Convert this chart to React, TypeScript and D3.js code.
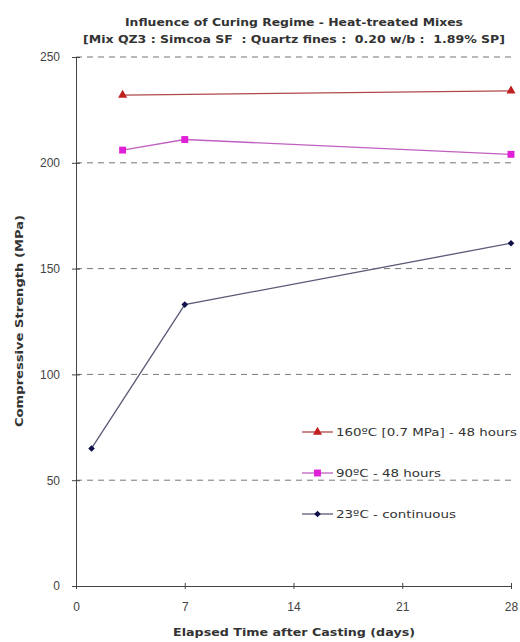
import React, { useEffect, useRef } from 'react';
import * as d3 from 'd3';

const xTicks = [0, 7, 14, 21, 28];
const yTicks = [0, 50, 100, 150, 200, 250];

const days160 = [3, 28];
const strength160 = [232, 234];
const days90 = [3, 7, 28];
const strength90 = [206, 211, 204];
const days23 = [1, 7, 28];
const strength23 = [65, 133, 162];

const seriesNames = ['160ºC [0.7 MPa] - 48 hours', '90ºC - 48 hours', '23ºC - continuous'];
// the labels in the original are drawn wide, so each one gets its measured width
const legendWidths = [181, 105, 120];

const App = () => {
  const ref = useRef<SVGSVGElement>(null);

  useEffect(() => {
    const width = 520;
    const height = 642;
    const margin = { top: 57, right: 9, bottom: 56, left: 76 };

    const svg = d3.select(ref.current);
    svg.selectAll('*').remove();
    svg.attr('width', width).attr('height', height);

    const x = d3.scaleLinear().domain([0, 28]).range([margin.left, width - margin.right]);
    const y = d3.scaleLinear().domain([0, 250]).range([height - margin.bottom, margin.top]);

    const font = 'DejaVu Sans, Arial, sans-serif';
    const tickFont = 'Liberation Sans, Arial, sans-serif';
    const textColor = '#333';

    const boldText = (tx: number, ty: number, txt: string, len: number) =>
      svg.append('text')
        .attr('x', tx).attr('y', ty)
        .attr('text-anchor', 'middle')
        .attr('textLength', len)
        .attr('lengthAdjust', 'spacingAndGlyphs')
        .style('font-family', font).style('font-weight', 'bold').style('font-size', '11px')
        .attr('fill', textColor)
        .text(txt);

    // title
    boldText(294, 26, 'Influence of Curing Regime - Heat-treated Mixes', 338);
    boldText(294, 43, '[Mix QZ3 : Simcoa SF  : Quartz fines :  0.20 w/b :  1.89% SP]', 422)
      .attr('xml:space', 'preserve');

    // gridlines
    svg.append('g')
      .selectAll('line')
      .data(yTicks.filter((d) => d > 0))
      .enter()
      .append('line')
      .attr('x1', x(0)).attr('x2', x(28))
      .attr('y1', (d) => y(d)).attr('y2', (d) => y(d))
      .attr('stroke', '#777').attr('stroke-width', 1)
      .attr('stroke-dasharray', '6,5');

    // y axis
    const yAxis = svg.append('g')
      .attr('transform', `translate(${x(0)},0)`)
      .call(d3.axisLeft(y).tickValues(yTicks).tickSize(4).tickPadding(12));
    yAxis.select('.domain').attr('stroke', '#444');
    yAxis.selectAll('.tick line').attr('stroke', '#444').attr('x2', 4).attr('x1', -4);
    yAxis.selectAll('.tick text')
      .style('font-family', tickFont).style('font-size', '12px').attr('fill', '#444');

    // x axis
    const xAxis = svg.append('g')
      .attr('transform', `translate(0,${y(0)})`)
      .call(d3.axisBottom(x).tickValues(xTicks).tickSize(3).tickPadding(13));
    xAxis.select('.domain').attr('stroke', '#444');
    xAxis.selectAll('.tick line').attr('stroke', '#444').attr('y1', -3).attr('y2', 3);
    xAxis.selectAll('.tick text')
      .style('font-family', tickFont).style('font-size', '12px').attr('fill', '#444');

    // axis titles
    boldText(294, 636, 'Elapsed Time after Casting (days)', 242);
    boldText(0, 0, 'Compressive Strength (MPa)', 212)
      .attr('transform', `translate(23,321) rotate(-90)`);

    const series = [
      { days: days160, vals: strength160, line: '#b04848', marker: '#c02020', symbol: d3.symbolTriangle, size: 36, rot: 0 },
      { days: days90, vals: strength90, line: '#c060c0', marker: '#e020d8', symbol: d3.symbolSquare, size: 48, rot: 0 },
      { days: days23, vals: strength23, line: '#5a5a78', marker: '#10104a', symbol: d3.symbolSquare, size: 22, rot: 45 },
    ];

    const lineGen = d3.line<[number, number]>().x((d) => x(d[0])).y((d) => y(d[1]));

    series.forEach((s) => {
      const pts = s.days.map((d, i) => [d, s.vals[i]] as [number, number]);
      svg.append('path')
        .attr('d', lineGen(pts))
        .attr('fill', 'none')
        .attr('stroke', s.line)
        .attr('stroke-width', 1.3);
      svg.append('g')
        .selectAll('path')
        .data(pts)
        .enter()
        .append('path')
        .attr('d', d3.symbol().type(s.symbol).size(s.size)())
        .attr('transform', (d) => `translate(${x(d[0])},${y(d[1])}) rotate(${s.rot})`)
        .attr('fill', s.marker);
    });

    // legend
    const legend = svg.append('g').attr('transform', 'translate(302,432)');
    series.forEach((s, i) => {
      const g = legend.append('g').attr('transform', `translate(0,${i * 41})`);
      g.append('line').attr('x1', 0).attr('x2', 31).attr('y1', 0).attr('y2', 0)
        .attr('stroke', s.line).attr('stroke-width', 1.3);
      g.append('path')
        .attr('d', d3.symbol().type(s.symbol).size(s.size)())
        .attr('transform', `translate(15.5,0) rotate(${s.rot})`)
        .attr('fill', s.marker);
      g.append('text')
        .attr('x', 34).attr('y', 4)
        .attr('textLength', legendWidths[i])
        .attr('lengthAdjust', 'spacingAndGlyphs')
        .style('font-family', font).style('font-size', '11px')
        .attr('fill', textColor)
        .text(seriesNames[i]);
    });
  }, []);

  return <svg ref={ref} style={{ position: 'absolute', left: 0, top: 0 }} />;
};

export default App;
